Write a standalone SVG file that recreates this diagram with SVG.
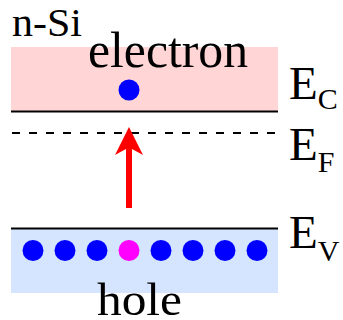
<svg xmlns="http://www.w3.org/2000/svg" width="343" height="320" viewBox="0 0 343 320">
<style>
.t{font-family:"Liberation Serif","Times New Roman",serif;fill:#000}
.lvl{stroke:#000;stroke-width:2.2;fill:none}
.e{fill:#0000ff}
.h{fill:#ff00ff}
</style>
<rect width="343" height="320" fill="#fff"/>
<g id="conduction-band">
<rect x="11" y="47" width="267" height="64" fill="#ffd5d5"/>
<line class="lvl" x1="11" y1="111.5" x2="278" y2="111.5"/>
</g>
<g id="valence-band">
<rect x="11" y="228" width="267" height="65" fill="#d5e5ff"/>
<line class="lvl" x1="11" y1="228.5" x2="278" y2="228.5"/>
</g>
<g id="fermi-level">
<line x1="12" y1="133" x2="278" y2="133" stroke="#000" stroke-width="2" stroke-dasharray="8 9"/>
</g>
<g id="electron">
<circle class="e" cx="129" cy="90" r="10.5"/>
<text class="t" x="88" y="67" font-size="50" textLength="160" lengthAdjust="spacingAndGlyphs">electron</text>
</g>
<g id="holes">
<circle class="e" cx="33" cy="250.5" r="10.5"/>
<circle class="e" cx="65" cy="250.5" r="10.5"/>
<circle class="e" cx="97" cy="250.5" r="10.5"/>
<circle class="h" cx="129" cy="250.5" r="10.5"/>
<circle class="e" cx="161" cy="250.5" r="10.5"/>
<circle class="e" cx="193" cy="250.5" r="10.5"/>
<circle class="e" cx="225" cy="250.5" r="10.5"/>
<circle class="e" cx="257" cy="250.5" r="10.5"/>
<text class="t" x="97" y="315" font-size="47" textLength="85" lengthAdjust="spacingAndGlyphs">hole</text>
</g>
<g id="label-nSi"><text class="t" x="12" y="36" font-size="40" textLength="70" lengthAdjust="spacingAndGlyphs">n-Si</text></g>
<g id="label-EC"><text class="t" x="289" y="99" font-size="47">E<tspan font-size="30" dy="10">C</tspan></text></g>
<g id="label-EF"><text class="t" x="289" y="160" font-size="47">E<tspan font-size="30" dy="12">F</tspan></text></g>
<g id="label-EV"><text class="t" x="289" y="248" font-size="47">E<tspan font-size="30" dy="13">V</tspan></text></g>
<g id="connectors">
<polygon fill="#ff0000" points="129,127 143,155 132,149 132,208 126,208 126,149 115,155"/>
</g>
</svg>
